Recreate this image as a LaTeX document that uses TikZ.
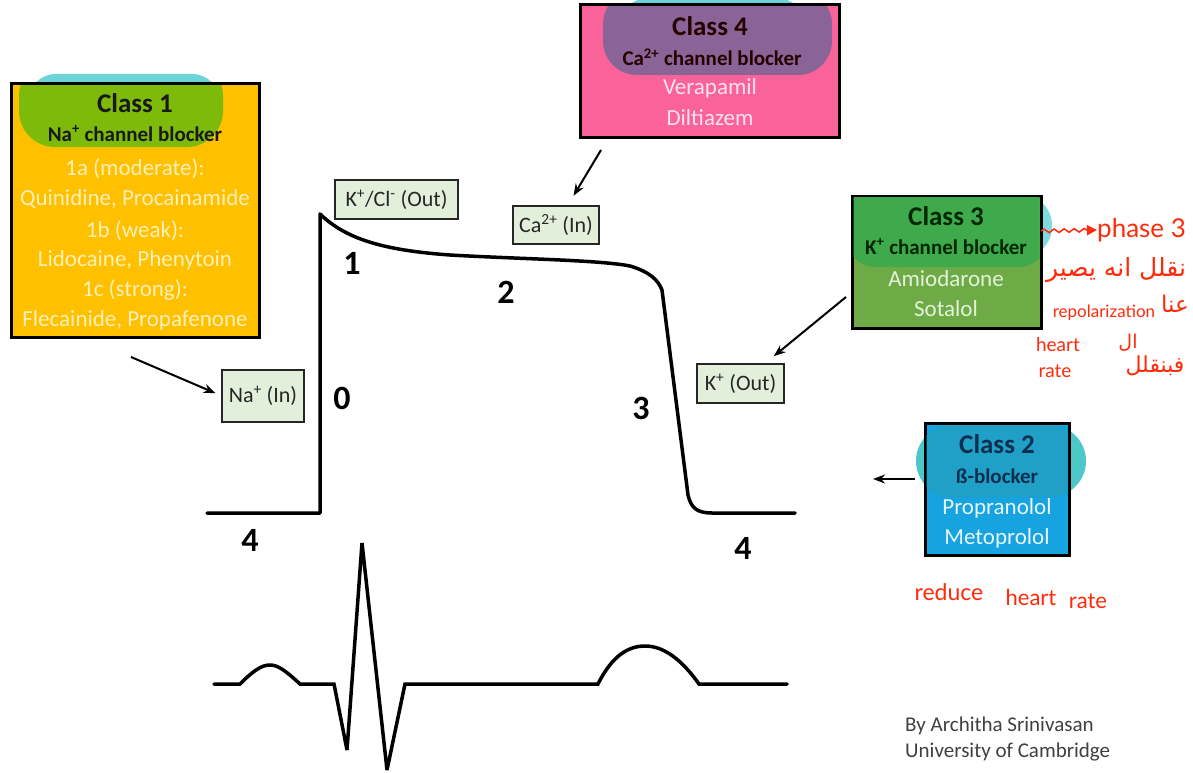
\documentclass[tikz,border=0pt]{standalone}
\usepackage{fontspec}
\setmainfont{Carlito}
\newfontfamily\arabicfont[Script=Arabic]{DejaVu Sans}
\newfontfamily\handfont{Lato}
\TeXXeTstate=1
\usetikzlibrary{arrows.meta,decorations.pathmorphing}
\definecolor{cyanhl}{HTML}{6CD3D8}
\definecolor{c1fill}{HTML}{FFC000}
\definecolor{c1hl}{HTML}{7DBA0A}
\definecolor{c1txt}{HTML}{FFF0B8}
\definecolor{c4fill}{HTML}{FA6399}
\definecolor{c4hl}{HTML}{8A6497}
\definecolor{c4txt}{HTML}{FFE2EE}
\definecolor{c3fill}{HTML}{6EAB46}
\definecolor{c3hl}{HTML}{3EAA4B}
\definecolor{c3txt}{HTML}{E4F2DA}
\definecolor{c3cyan}{HTML}{7FDADD}
\definecolor{c2fill}{HTML}{16A3DF}
\definecolor{c2cyan}{HTML}{4CC8C8}
\definecolor{c2hl}{HTML}{20A0C6}
\definecolor{c2title}{HTML}{0B2F4F}
\definecolor{c2txt}{HTML}{E6F7FF}
\definecolor{ionfill}{HTML}{E2EFDA}
\definecolor{handred}{HTML}{FF2A0A}
\definecolor{authorgray}{HTML}{404040}
\tikzset{
  classbox/.style={draw=black, line width=3pt, inner sep=0pt, outer sep=0pt},
  ionbox/.style={draw=black!85, line width=1.6pt, fill=ionfill, inner sep=0pt, outer sep=0pt,
    font=\fontsize{22}{26}\selectfont, text=black!85},
  ttl/.style={font=\fontsize{27}{30}\selectfont\bfseries, anchor=base},
  subt/.style={font=\fontsize{21}{24}\selectfont\bfseries, anchor=base},
  bodytxt/.style={font=\fontsize{23}{27}\selectfont, anchor=base},
  phasenum/.style={font=\fontsize{34}{38}\selectfont\bfseries},
  arr/.style={line width=2pt, -{Stealth[length=12pt,width=9pt]}},
  wave/.style={line width=3.5pt, line join=round, line cap=round},
  hand/.style={text=handred, font=\handfont\fontsize{#1}{#1}\selectfont, inner sep=0pt},
  handar/.style={text=handred, font=\arabicfont\fontsize{#1}{#1}\selectfont, inner sep=0pt},
  author/.style={text=authorgray, font=\fontsize{21}{24}\selectfont, anchor=base west, inner sep=0pt},
}
\begin{document}
\begin{tikzpicture}[x=1pt,y=-1pt]
\fill[white] (0,0) rectangle (1193,773);
\useasboundingbox (0,0) rectangle (1193,773);

% ---------- Class 1 ----------
\fill[cyanhl, rounded corners=28pt] (28,74) rectangle (220,135);
\node[classbox, fill=c1fill, minimum width=248pt, minimum height=253pt] (c1) at (135,210.5) {};
\begin{scope}
  \clip (12.5,85.5) rectangle (257.5,335.5);
  \fill[c1hl, rounded corners=36pt] (19,60) rectangle (223,147);
\end{scope}
\node[ttl, text=black!90] (c1t) at (135,113) {Class 1};
\node[subt, text=black!90] (c1s) at (135,141) {Na\textsuperscript{+} channel blocker};
\node[bodytxt, text=c1txt] (c1a) at (135,175) {1a (moderate):};
\node[bodytxt, text=c1txt] (c1b) at (135,205) {Quinidine, Procainamide};
\node[bodytxt, text=c1txt] (c1c) at (135,237) {1b (weak):};
\node[bodytxt, text=c1txt] (c1d) at (135,266) {Lidocaine, Phenytoin};
\node[bodytxt, text=c1txt] (c1e) at (135,296) {1c (strong):};
\node[bodytxt, text=c1txt] (c1f) at (135,326) {Flecainide, Propafenone};

% ---------- Class 4 ----------
\fill[cyanhl, rounded corners=28pt] (620,-2) rectangle (805,60);
\node[classbox, fill=c4fill, minimum width=259pt, minimum height=132pt] (c4) at (709.5,71) {};
\begin{scope}
  \clip (581.5,6.5) rectangle (837.5,135.5);
  \fill[c4hl, rounded corners=34pt] (603,-10) rectangle (832,75);
\end{scope}
\node[ttl, text=black!85!red] (c4t) at (710,36) {Class 4};
\node[subt, text=black!85!red] (c4s) at (712,66) {Ca\textsuperscript{2+} channel blocker};
\node[bodytxt, text=c4txt] (c4a) at (710,95) {Verapamil};
\node[bodytxt, text=c4txt] (c4b) at (710,125) {Diltiazem};

% ---------- Class 3 ----------
\fill[c3cyan, rounded corners=30pt] (880,195) rectangle (1052,257);
\node[classbox, fill=c3fill, minimum width=189pt, minimum height=132pt] (c3) at (946.5,262) {};
\begin{scope}
  \clip (853.5,197.5) rectangle (1039.5,326.5);
  \fill[c3hl, rounded corners=30pt] (846,180) rectangle (1048,267);
\end{scope}
\node[ttl, text=black!85!green] (c3t) at (946,225) {Class 3};
\node[subt, text=black!85!green] (c3s) at (946,254) {K\textsuperscript{+} channel blocker};
\node[bodytxt, text=c3txt] (c3a) at (946,286) {Amiodarone};
\node[bodytxt, text=c3txt] (c3b) at (946,316) {Sotalol};

% ---------- Class 2 ----------
\fill[c2cyan, rounded corners=36pt] (916,425) rectangle (1086,497);
\node[classbox, fill=c2fill, minimum width=144pt, minimum height=132pt] (c2) at (997,489) {};
\begin{scope}
  \clip (926.5,424.5) rectangle (1067.5,553.5);
  \fill[c2hl, rounded corners=36pt] (916,425) rectangle (1086,497);
\end{scope}
\node[ttl, text=c2title] (c2t) at (997,453) {Class 2};
\node[subt, text=c2title] (c2s) at (997,483) {ß-blocker};
\node[bodytxt, text=c2txt] (c2a) at (997,514) {Propranolol};
\node[bodytxt, text=c2txt] (c2b) at (997,544) {Metoprolol};

% ---------- ion boxes ----------
\node[ionbox, minimum width=123pt, minimum height=39pt] (kcl) at (396.5,199.5) {K\textsuperscript{+}/Cl\textsuperscript{-} (Out)};
\node[ionbox, minimum width=82pt, minimum height=52pt] (na) at (263,396) {Na\textsuperscript{+} (In)};
\node[ionbox, minimum width=86pt, minimum height=38pt] (ca) at (556,225) {Ca\textsuperscript{2+} (In)};
\node[ionbox, minimum width=87pt, minimum height=39pt] (kout) at (740.5,383.5) {K\textsuperscript{+} (Out)};

% ---------- arrows ----------
\coordinate (a1tail) at (131,357);
\coordinate (a4tail) at (601,150);
\coordinate (a3tail) at (846,297);
\coordinate (a2tail) at (915,479);
\coordinate (a2head) at (873,479);
\draw[arr, shorten >=7pt] (a1tail) -- (na.west);
\draw[arr, shorten >=34pt] (a4tail) -- (ca.center);
\draw[arr, shorten >=43pt] (a3tail) -- (kout.center);
\draw[arr] (a2tail) -- (a2head);

% ---------- action potential ----------
\draw[wave] (207,513) -- (320,513) -- (320,214)
  .. controls (345,238) and (380,250) .. (450,255)
  .. controls (520,259) and (600,260) .. (630,266)
  .. controls (650,272) and (658,280) .. (662,290)
  -- (688,495)
  .. controls (691,508) and (697,513) .. (712,513) -- (795,513);

\node[phasenum] (p1) at (352,263) {1};
\node[phasenum] (p0) at (342,398) {0};
\node[phasenum] (p2) at (506,292) {2};
\node[phasenum] (p3) at (641,408) {3};
\node[phasenum] (p4a) at (250,540) {4};
\node[phasenum] (p4b) at (743,548) {4};

% ---------- ECG ----------
\draw[wave, line join=miter, miter limit=3] (214,684) -- (240,684)
  .. controls (254,670) and (262,665) .. (270,665)
  .. controls (278,665) and (286,671) .. (300,684)
  -- (334,684) -- (347,750) -- (362,543) -- (387,770) -- (405,684) -- (598,684)
  .. controls (612,656) and (628,646) .. (645,646)
  .. controls (664,646) and (682,660) .. (699,684) -- (787,684);

% ---------- author ----------
\node[author] (au1) at (905,731) {By Architha Srinivasan};
\node[author] (au2) at (905,757) {University of Cambridge};

% ---------- handwritten notes ----------
\node[hand=26, anchor=west] (ph3) at (1097,230) {phase 3};
\draw[handred, line width=1.5pt, decorate,
  decoration={snake, amplitude=1.8pt, segment length=10pt, post length=8pt},
  -{Triangle[length=10pt,width=10pt]}] ([yshift=31pt]c3.east) -- (ph3.west);
\node[handar=25] (ar1) at (1116,270) {\beginR نقلل انه يصير\endR};
\node[hand=17] (rep) at (1104,313) {repolarization};
\node[handar=23] (ar2) at (1175,304) {\beginR عنا\endR};
\node[hand=19] (hr1) at (1058,345) {heart};
\node[hand=19] (hr2) at (1055,371) {rate};
\node[handar=22] (ar3) at (1155,366) {\beginR فبنقلل\endR};
\node[handar=19] (ar4) at (1128,343) {\beginR ال\endR};
\node[hand=23] (red1) at (949,592) {reduce};
\node[hand=22] (red2) at (1031,597) {heart};
\node[hand=22] (red3) at (1088,601) {rate};
\end{tikzpicture}
\end{document}
